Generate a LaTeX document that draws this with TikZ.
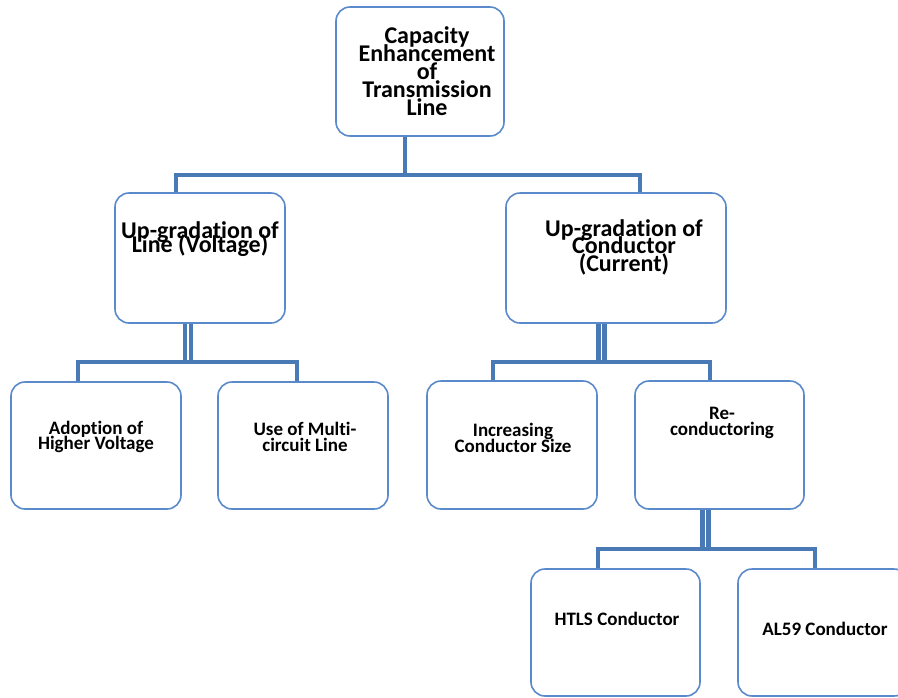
\documentclass[tikz,border=0pt]{standalone}
\usepackage{fontspec}
\setmainfont{Carlito}[Ligatures=NoCommon]
\newcommand\mytight{\lineskiplimit=-100pt\relax\lineskip=0pt\relax}
\begin{document}
\begin{tikzpicture}[x=1pt,y=-1pt,
  bx/.style={draw=boxc, fill=white, line width=1.6pt, rounded corners=14pt, inner sep=0pt},
  conn/.style={draw=connc, line width=4.5pt},
  dbl/.style={draw=connc, line width=4.3pt, double=white, double distance=1.8pt},
  bigtxt/.style={align=center, inner sep=0pt, font=\bfseries\fontsize{24}{18}\selectfont\mytight},
  smtxt/.style={align=center, inner sep=0pt, font=\bfseries\fontsize{19}{15.5}\selectfont\mytight}]
\definecolor{boxc}{HTML}{5A8ACB}
\definecolor{connc}{HTML}{4A7AB5}
\useasboundingbox (0,0) rectangle (898,697);
\clip (0,0) rectangle (898,697);
% junction coordinates
\coordinate (j1) at (405,175);
\coordinate (j2) at (188,362);
\coordinate (j3) at (601.5,362);
\coordinate (j4) at (705.5,549);
% boxes
\node[bx, minimum width=168pt, minimum height=129pt] (top) at (420,71.5) {};
\node[bx, minimum width=170pt, minimum height=130pt] (lv) at (200,258) {};
\node[bx, minimum width=220pt, minimum height=130pt] (cur) at (616,258) {};
\node[bx, minimum width=170pt, minimum height=127pt] (hv) at (96,445.5) {};
\node[bx, minimum width=170pt, minimum height=127pt] (mc) at (303,445.5) {};
\node[bx, minimum width=170pt, minimum height=128pt] (ics) at (512,445) {};
\node[bx, minimum width=169pt, minimum height=128pt] (rc) at (719.5,445) {};
\node[bx, minimum width=169pt, minimum height=127pt] (htls) at (615.5,632.5) {};
\node[bx, minimum width=170pt, minimum height=127pt] (al) at (823,632.5) {};
% connectors
\draw[conn] ([xshift=-15pt]top.south) -- (j1);
\draw[conn] ([xshift=-24pt]lv.north) |- (j1) -| ([xshift=24pt]cur.north);
\draw[dbl] ([xshift=-12pt]lv.south) -- (j2);
\draw[conn] ([xshift=-18pt]hv.north) |- (j2) -| ([xshift=-6pt]mc.north);
\draw[dbl] ([xshift=-14.5pt]cur.south) -- (j3);
\draw[conn] ([xshift=-19pt]ics.north) |- (j3) -| ([xshift=-9.5pt]rc.north);
\draw[dbl] ([xshift=-14pt]rc.south) -- (j4);
\draw[conn] ([xshift=-17.5pt]htls.north) |- (j4) -| ([xshift=-8pt]al.north);
% texts
\node[bigtxt] (topt) at (427,71) {Capacity\\Enhancement\\of\\Transmission\\Line};
\node[bigtxt, font=\bfseries\fontsize{24}{14}\selectfont\mytight] (lvt) at (200,239.5) {Up-gradation of\\Line (Voltage)};
\node[bigtxt, font=\bfseries\fontsize{24}{17.5}\selectfont\mytight] (curt) at (624,247) {Up-gradation of\\Conductor\\(Current)};
\node[smtxt] (hvt) at (96,437) {Adoption of\\Higher Voltage};
\node[smtxt] (mct) at (305,437) {Use of Multi-\\circuit Line};
\node[smtxt] (icst) at (513,438) {Increasing\\Conductor Size};
\node[smtxt] (rct) at (722,423) {Re-\\conductoring};
\node[smtxt] (htlst) at (617,619) {HTLS Conductor};
\node[smtxt] (alt) at (825,629) {AL59 Conductor};
\end{tikzpicture}
\end{document}
